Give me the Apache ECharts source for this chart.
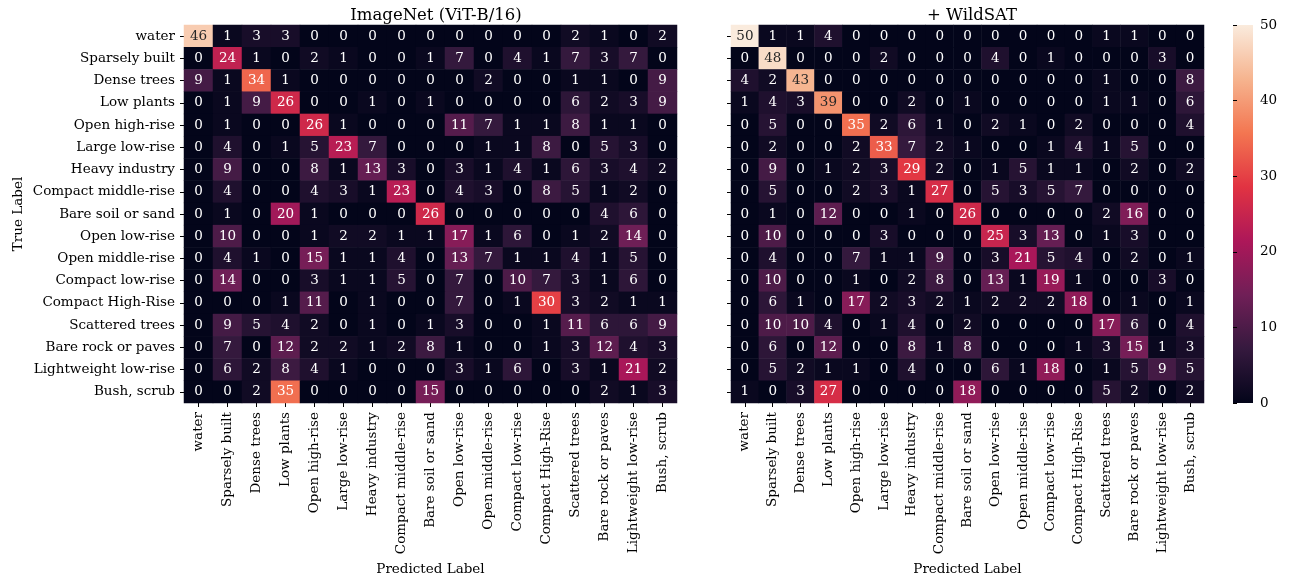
<!DOCTYPE html>
<html>
<head>
<meta charset="utf-8">
<script src="https://cdn.jsdelivr.net/npm/echarts@6/dist/echarts.min.js"></script>
<style>
  html, body { margin: 0; padding: 0; background: #fff; }
  #chart { width: 1291px; height: 577px; }
</style>
</head>
<body>
<div id="chart"></div>
<script>
// class labels (rows = true, columns = predicted)
const categories = ['water', 'Sparsely built', 'Dense trees', 'Low plants', 'Open high-rise',
  'Large low-rise', 'Heavy industry', 'Compact middle-rise', 'Bare soil or sand', 'Open low-rise',
  'Open middle-rise', 'Compact low-rise', 'Compact High-Rise', 'Scattered trees',
  'Bare rock or paves', 'Lightweight low-rise', 'Bush, scrub'];

const imagenetRows = [
  [46, 1, 3, 3, 0, 0, 0, 0, 0, 0, 0, 0, 0, 2, 1, 0, 2],
  [0, 24, 1, 0, 2, 1, 0, 0, 1, 7, 0, 4, 1, 7, 3, 7, 0],
  [9, 1, 34, 1, 0, 0, 0, 0, 0, 0, 2, 0, 0, 1, 1, 0, 9],
  [0, 1, 9, 26, 0, 0, 1, 0, 1, 0, 0, 0, 0, 6, 2, 3, 9],
  [0, 1, 0, 0, 26, 1, 0, 0, 0, 11, 7, 1, 1, 8, 1, 1, 0],
  [0, 4, 0, 1, 5, 23, 7, 0, 0, 0, 1, 1, 8, 0, 5, 3, 0],
  [0, 9, 0, 0, 8, 1, 13, 3, 0, 3, 1, 4, 1, 6, 3, 4, 2],
  [0, 4, 0, 0, 4, 3, 1, 23, 0, 4, 3, 0, 8, 5, 1, 2, 0],
  [0, 1, 0, 20, 1, 0, 0, 0, 26, 0, 0, 0, 0, 0, 4, 6, 0],
  [0, 10, 0, 0, 1, 2, 2, 1, 1, 17, 1, 6, 0, 1, 2, 14, 0],
  [0, 4, 1, 0, 15, 1, 1, 4, 0, 13, 7, 1, 1, 4, 1, 5, 0],
  [0, 14, 0, 0, 3, 1, 1, 5, 0, 7, 0, 10, 7, 3, 1, 6, 0],
  [0, 0, 0, 1, 11, 0, 1, 0, 0, 7, 0, 1, 30, 3, 2, 1, 1],
  [0, 9, 5, 4, 2, 0, 1, 0, 1, 3, 0, 0, 1, 11, 6, 6, 9],
  [0, 7, 0, 12, 2, 2, 1, 2, 8, 1, 0, 0, 1, 3, 12, 4, 3],
  [0, 6, 2, 8, 4, 1, 0, 0, 0, 3, 1, 6, 0, 3, 1, 21, 2],
  [0, 0, 2, 35, 0, 0, 0, 0, 15, 0, 0, 0, 0, 0, 2, 1, 3]
];

const wildsatRows = [
  [50, 1, 1, 4, 0, 0, 0, 0, 0, 0, 0, 0, 0, 1, 1, 0, 0],
  [0, 48, 0, 0, 0, 2, 0, 0, 0, 4, 0, 1, 0, 0, 0, 3, 0],
  [4, 2, 43, 0, 0, 0, 0, 0, 0, 0, 0, 0, 0, 1, 0, 0, 8],
  [1, 4, 3, 39, 0, 0, 2, 0, 1, 0, 0, 0, 0, 1, 1, 0, 6],
  [0, 5, 0, 0, 35, 2, 6, 1, 0, 2, 1, 0, 2, 0, 0, 0, 4],
  [0, 2, 0, 0, 2, 33, 7, 2, 1, 0, 0, 1, 4, 1, 5, 0, 0],
  [0, 9, 0, 1, 2, 3, 29, 2, 0, 1, 5, 1, 1, 0, 2, 0, 2],
  [0, 5, 0, 0, 2, 3, 1, 27, 0, 5, 3, 5, 7, 0, 0, 0, 0],
  [0, 1, 0, 12, 0, 0, 1, 0, 26, 0, 0, 0, 0, 2, 16, 0, 0],
  [0, 10, 0, 0, 0, 3, 0, 0, 0, 25, 3, 13, 0, 1, 3, 0, 0],
  [0, 4, 0, 0, 7, 1, 1, 9, 0, 3, 21, 5, 4, 0, 2, 0, 1],
  [0, 10, 0, 0, 1, 0, 2, 8, 0, 13, 1, 19, 1, 0, 0, 3, 0],
  [0, 6, 1, 0, 17, 2, 3, 2, 1, 2, 2, 2, 18, 0, 1, 0, 1],
  [0, 10, 10, 4, 0, 1, 4, 0, 2, 0, 0, 0, 0, 17, 6, 0, 4],
  [0, 6, 0, 12, 0, 0, 8, 1, 8, 0, 0, 0, 1, 3, 15, 1, 3],
  [0, 5, 2, 1, 1, 0, 4, 0, 0, 6, 1, 18, 0, 1, 5, 9, 5],
  [1, 0, 3, 27, 0, 0, 0, 0, 18, 0, 0, 0, 0, 5, 2, 0, 2]
];

const colorbarTicks = [0, 10, 20, 30, 40, 50];
// seaborn "rocket", evenly spaced stops low -> high
const rocket = ['#03051a', '#35193e', '#701f57', '#ad1759', '#e13342', '#f37651', '#f6b48f', '#faebdd'];

const FONT = 'DejaVu Serif';
const FS = 13.5;

function toCells(rows) {
  const out = [];
  rows.forEach((row, y) => {
    row.forEach((v, x) => {
      out.push({
        value: [x, y, v],
        label: { color: v >= 37 ? '#262626' : '#ffffff' }
      });
    });
  });
  return out;
}

function xAxisFor(gridIndex) {
  return {
    type: 'category', gridIndex: gridIndex, data: categories, position: 'bottom',
    axisLine: { show: false },
    axisTick: { show: true, alignWithLabel: true, length: 4, lineStyle: { color: '#000' } },
    axisLabel: { rotate: 90, interval: 0, margin: 9, fontFamily: FONT, fontSize: FS, color: '#000' },
    splitLine: { show: false },
    name: 'Predicted Label', nameLocation: 'middle', nameGap: 156,
    nameTextStyle: { fontFamily: FONT, fontSize: FS, color: '#000' }
  };
}

const chart = echarts.init(document.getElementById('chart'));

// colorbar gradient, top = max
const barStops = rocket.map((c, i) => ({ offset: 1 - i / (rocket.length - 1), color: c })).reverse();

chart.setOption({
  animation: false,
  title: [
    { text: 'ImageNet (ViT-B/16)', left: 431, top: 2, textAlign: 'center',
      textStyle: { fontFamily: FONT, fontSize: 16.5, fontWeight: 'normal', color: '#000' } },
    { text: '+ WildSAT', left: 967, top: 2, textAlign: 'center',
      textStyle: { fontFamily: FONT, fontSize: 16.5, fontWeight: 'normal', color: '#000' } }
  ],
  grid: [
    { left: 184, top: 25, width: 493, height: 378, outerBoundsMode: 'none' },
    { left: 731, top: 25, width: 473, height: 378, outerBoundsMode: 'none' },
    { left: 1233, top: 25, width: 20, height: 378, outerBoundsMode: 'none' }
  ],
  xAxis: [
    xAxisFor(0),
    xAxisFor(1),
    { type: 'value', gridIndex: 2, show: false, min: 0, max: 1 }
  ],
  yAxis: [
    {
      type: 'category', gridIndex: 0, data: categories, inverse: true,
      axisLine: { show: false },
      axisTick: { show: true, alignWithLabel: true, length: 4, lineStyle: { color: '#000' } },
      axisLabel: { interval: 0, margin: 9, fontFamily: FONT, fontSize: FS, color: '#000' },
      splitLine: { show: false },
      name: 'True Label', nameLocation: 'middle', nameGap: 159, nameRotate: 90,
      nameTextStyle: { fontFamily: FONT, fontSize: FS, color: '#000' }
    },
    {
      type: 'category', gridIndex: 1, data: categories, inverse: true,
      axisLine: { show: false },
      axisTick: { show: true, alignWithLabel: true, length: 4, lineStyle: { color: '#000' } },
      axisLabel: { show: false },
      splitLine: { show: false }
    },
    {
      type: 'value', gridIndex: 2, position: 'right', min: colorbarTicks[0],
      max: colorbarTicks[colorbarTicks.length - 1], interval: 10,
      axisLine: { show: false },
      axisTick: { show: true, length: 4, lineStyle: { color: '#000' } },
      axisLabel: { margin: 7, fontFamily: FONT, fontSize: FS, color: '#000' },
      splitLine: { show: false }
    }
  ],
  visualMap: {
    type: 'continuous', min: 0, max: 50, seriesIndex: [0, 1],
    show: false,
    inRange: { color: rocket }
  },
  graphic: [{
    type: 'rect', left: 1233, top: 25, z: -1,
    shape: { width: 20, height: 378 },
    style: { fill: new echarts.graphic.LinearGradient(0, 0, 0, 1, barStops) }
  }],
  series: [
    {
      type: 'heatmap', xAxisIndex: 0, yAxisIndex: 0, data: toCells(imagenetRows),
      label: { show: true, formatter: p => p.value[2], fontFamily: FONT, fontSize: FS },
      emphasis: { disabled: true }
    },
    {
      type: 'heatmap', xAxisIndex: 1, yAxisIndex: 1, data: toCells(wildsatRows),
      label: { show: true, formatter: p => p.value[2], fontFamily: FONT, fontSize: FS },
      emphasis: { disabled: true }
    }
  ]
});
</script>
</body>
</html>
